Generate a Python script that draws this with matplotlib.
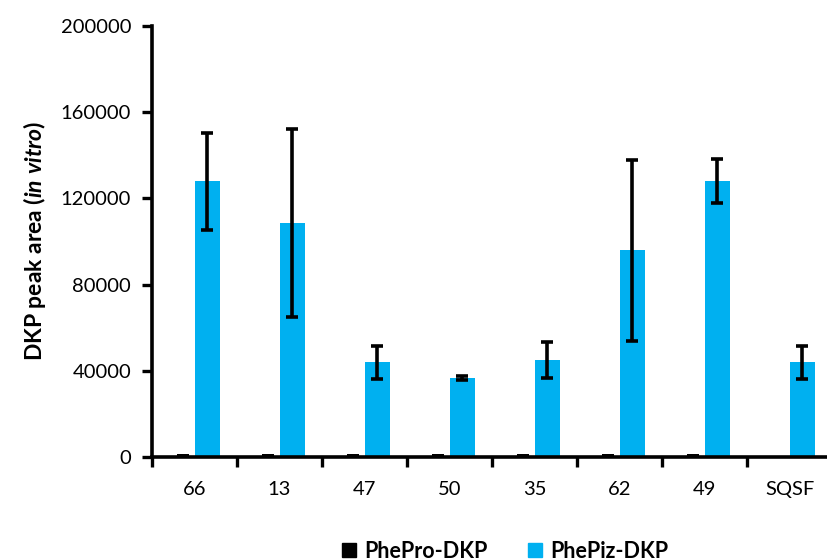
import numpy as np
import matplotlib
matplotlib.use("Agg")
import matplotlib.pyplot as plt
from matplotlib.lines import Line2D

plt.rcParams['font.family'] = ['Lato', 'DejaVu Sans']
plt.rcParams['mathtext.fontset'] = 'custom'
plt.rcParams['mathtext.rm'] = 'Lato'
plt.rcParams['mathtext.bf'] = 'Lato:bold'
plt.rcParams['mathtext.it'] = 'Lato:italic'
plt.rcParams['mathtext.bfit'] = 'Lato:bold:italic'

# dados
amostras = ["66", "13", "47", "50", "35", "62", "49", "SQSF"]
phepro = [1600, 1600, 1500, 1500, 1500, 1500, 1600, 0]
phepiz = [128000, 108500, 44000, 36600, 45000, 96000, 128000, 44000]
phepiz_err = [22500, 43500, 7700, 800, 8400, 42000, 10200, 7700]

AZUL = '#00B0F0'
TAM = 14.5

fig = plt.figure(figsize=(8.28, 5.60), dpi=100)
ax = fig.add_axes([152/828, 103/560, 680/828, 431/560])

x = np.arange(len(amostras))
ax.bar(x - 0.14, phepro, width=0.14, color='black', zorder=2)
ax.bar(x + 0.15, phepiz, width=0.29, color=AZUL, zorder=2)
ax.errorbar(x + 0.15, phepiz, yerr=phepiz_err, fmt='none', ecolor='black',
            elinewidth=2.6, capsize=4.6, capthick=2.6, zorder=3)

ax.set_xlim(-0.5, len(amostras) - 0.5)
ax.set_ylim(0, 200000)
ax.set_yticks(np.arange(0, 200001, 40000))

# ticks nas fronteiras, rótulos no centro
ax.set_xticks(np.arange(-0.5, len(amostras), 1.0))
ax.set_xticklabels([])
ax.set_xticks(x, minor=True)
ax.set_xticklabels(amostras, minor=True)
ax.tick_params(axis='x', which='major', length=7, width=2.4, direction='out')
ax.tick_params(axis='x', which='minor', length=0, pad=17, labelsize=TAM)
ax.tick_params(axis='y', length=7, width=2.4, direction='out', labelsize=TAM, pad=8)

for lado in ['top', 'right']:
    ax.spines[lado].set_visible(False)
for lado in ['left', 'bottom']:
    ax.spines[lado].set_linewidth(2.6)

ax.set_ylabel(r'DKP peak area ($\mathbfit{in\ vitro}$)', fontsize=16.5,
              fontweight='bold', labelpad=9)

handles = [Line2D([], [], marker='s', linestyle='none', color='black', markersize=10),
           Line2D([], [], marker='s', linestyle='none', color=AZUL, markersize=10)]
fig.legend(handles, ['PhePro-DKP', 'PhePiz-DKP'], loc='center',
           bbox_to_anchor=(502/828, 1 - 551/560), ncol=2, frameon=False,
           prop={'weight': 'bold', 'size': 15.5}, handletextpad=0.1,
           columnspacing=1.6, handlelength=1.2)

fig.savefig('out.png', dpi=100)
